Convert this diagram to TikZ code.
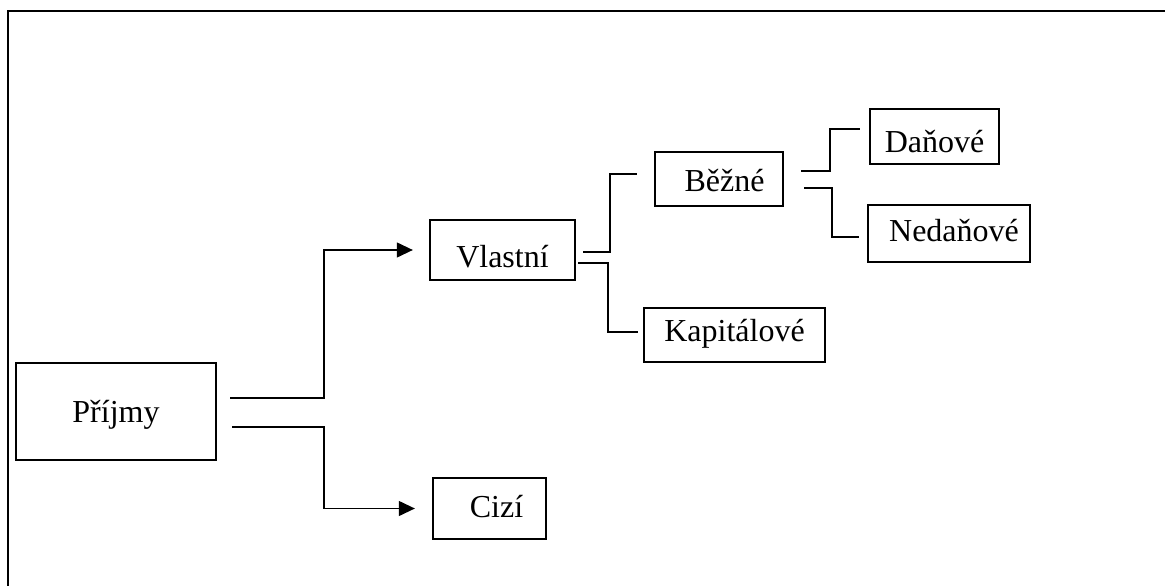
\documentclass[tikz,border=0pt]{standalone}
\usepackage{fontspec}
\setmainfont{Liberation Serif}
\usetikzlibrary{arrows.meta}
\begin{document}
\begin{tikzpicture}[x=1pt,y=-1pt,
  box/.style={draw,line width=2.3pt,inner sep=0pt,font=\fontsize{32}{38}\selectfont,text depth=0pt},
  conn/.style={line width=1.2pt},
  arr/.style={conn,-{Triangle[length=16pt,width=15pt]}}]
\useasboundingbox (0,0) rectangle (1165,586);
\draw[line width=2.3pt] (8,586) -- (8,11) -- (1165,11);

\node[box,minimum width=200pt,minimum height=97pt,text height=21pt] (prijmy) at (116,411.5) {Příjmy};
\node[box,minimum width=145pt,minimum height=60pt,text height=34pt] (vlastni) at (502.5,250) {Vlastní};
\node[box,minimum width=113pt,minimum height=61pt,text height=18.4pt] (cizi) at (489.5,508.5) {\hspace*{14pt}Cizí};
\node[box,minimum width=128pt,minimum height=54pt,text height=25.4pt] (bezne) at (719,179) {\hspace*{11pt}Běžné};
\node[box,minimum width=129pt,minimum height=55pt,text height=31pt] (danove) at (934.5,136.5) {Daňové};
\node[box,minimum width=162pt,minimum height=57pt,text height=16.4pt] (nedanove) at (949,233.5) {\hspace*{10pt}Nedaňové};
\node[box,minimum width=181pt,minimum height=54pt,text height=13.4pt] (kapitalove) at (734.5,335) {Kapitálové};

\coordinate (p1) at (230,398);
\coordinate (p2) at (232,427);
\coordinate (v1) at (583,252);
\coordinate (v2) at (578,263);
\coordinate (b0) at (637,174);
\coordinate (k0) at (638,332);
\coordinate (z1) at (801,171);
\coordinate (z2) at (804,188);
\coordinate (d0) at (860,129);
\coordinate (n0) at (859,237);

\draw[arr,shorten >=16pt] (p1) -| (324,250) -- (vlastni.west);
\draw[arr,shorten >=17pt] (p2) -| (324,508.5) -- (cizi.west);
\draw[conn] (v1) -| (610,174) -- (b0);
\draw[conn] (v2) -| (608,332) -- (k0);
\draw[conn] (z1) -| (830,129) -- (d0);
\draw[conn] (z2) -| (832,237) -- (n0);
\end{tikzpicture}
\end{document}
